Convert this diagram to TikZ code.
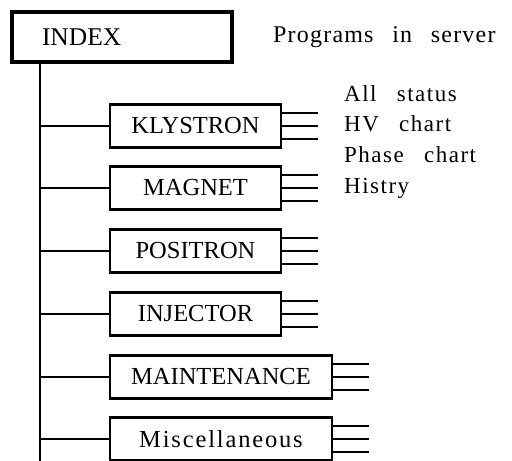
\documentclass[tikz,border=0pt]{standalone}
\usepackage{fontspec}
\setmainfont{Liberation Serif}
\newfontfamily\sidefont[LetterSpace=6.5,WordSpace=2.8]{Liberation Serif}
\newfontfamily\headfont[LetterSpace=5,WordSpace=2.6]{Liberation Serif}
\newfontfamily\miscfont[LetterSpace=7.5]{Liberation Serif}
\begin{document}
\begin{tikzpicture}[x=1pt,y=1pt,
  boxstyle/.style={draw=black, line width=2.5pt, minimum height=43pt, inner sep=0pt,
    font=\fontsize{24.5}{28}\selectfont},
  narrowbox/.style={boxstyle, minimum width=171pt},
  widebox/.style={boxstyle, minimum width=222pt},
  indexbox/.style={draw=black, line width=3.4pt, minimum width=220pt, minimum height=50pt,
    inner xsep=30pt, text width=160pt, align=left, font=\fontsize{25.5}{29}\selectfont},
  sidetext/.style={anchor=base west, inner sep=0pt, font=\fontsize{23}{26}\sidefont},
  headtext/.style={anchor=base west, inner sep=0pt, font=\fontsize{24}{28}\headfont},
  trunk/.style={line width=2.4pt},
  link/.style={line width=2.2pt},
  stubline/.style={line width=2pt}]
\useasboundingbox (0,0) rectangle (512,461);
\node[indexbox] (index) at (122,424) {INDEX};
\node[headtext] (prog) at (273,418.5) {Programs in server};
\node[sidetext] (t1) at (344,359) {All status};
\node[sidetext] (t2) at (344,329) {HV chart};
\node[sidetext] (t3) at (344,298) {Phase chart};
\node[sidetext] (t4) at (344,267) {Histry};

\node[narrowbox] (kly) at (195.5,335) {KLYSTRON};
\node[narrowbox] (mag) at (195.5,273) {MAGNET};
\node[narrowbox] (pos) at (195.5,210) {POSITRON};
\node[narrowbox] (inj) at (195.5,147) {INJECTOR};
\node[widebox] (mnt) at (221,84) {MAINTENANCE};
\node[widebox] (misc) at (221,22) {\miscfont Miscellaneous};

\coordinate (trunktop) at (40,399);
\coordinate (trunkbot) at (40,0);
\draw[trunk] (trunktop) -- (trunkbot);
\foreach \b in {kly,mag,pos,inj,mnt,misc}{
  \draw[link] (\b.west -| trunktop) -- (\b.west);
  \coordinate (\b-a) at ([xshift=36pt,yshift=13pt]\b.east);
  \coordinate (\b-b) at ([xshift=36pt]\b.east);
  \coordinate (\b-c) at ([xshift=36pt,yshift=-13pt]\b.east);
  \draw[stubline] ([yshift=13pt]\b.east) -- (\b-a);
  \draw[stubline] (\b.east) -- (\b-b);
  \draw[stubline] ([yshift=-13pt]\b.east) -- (\b-c);
}
\end{tikzpicture}
\end{document}
